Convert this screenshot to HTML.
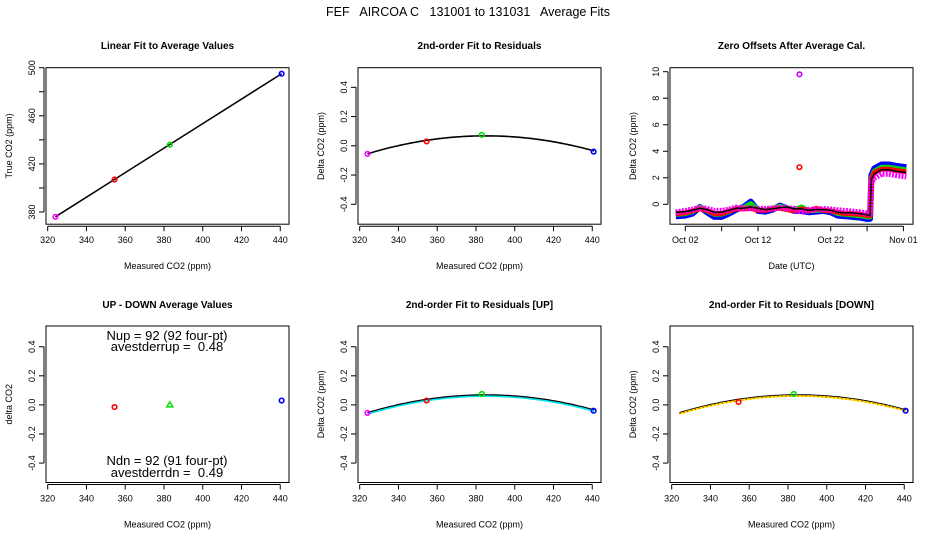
<!DOCTYPE html>
<html><head><meta charset="utf-8"><style>
html,body{margin:0;padding:0;background:#fff;}
svg{display:block;font-family:"Liberation Sans",sans-serif;}
</style></head><body>
<svg id="chart" width="936" height="540" viewBox="0 0 936 540" xmlns="http://www.w3.org/2000/svg">
<text x="468" y="16" font-size="12.5" text-anchor="middle" style="white-space:pre">FEF   AIRCOA C   131001 to 131031   Average Fits</text>
</svg>
<script>
// ---- data ----
const measX = [324, 354.5, 383, 440.7];
const trueY = [376, 407, 436, 495];
const ptColors = ['#ff00ff', '#ff0000', '#00dd00', '#0000ff'];
const residY = [-0.055, 0.03, 0.075, -0.04];
const fitCoef = [0.068, 385, 0.000033]; // peak, center, curvature
const udX = [354.5, 383, 440.7];
const udY = [-0.015, 0.0, 0.03];
const udColors = ['#ff0000', '#00dd00', '#0000ff'];
const upY = [-0.055, 0.03, 0.075, -0.04];
const dnX = [354.5, 383, 440.7];
const dnY = [0.02, 0.075, -0.04];
const xTicks = [320, 340, 360, 380, 400, 420, 440];
const linYTicks = [380, 420, 460, 500];
const residTicks = [-0.4, -0.2, 0.0, 0.2, 0.4];
const zeroDays = [0.7, 2, 3, 4, 5, 6, 7, 8, 9, 10, 11, 12, 13, 14, 15, 16, 17, 18, 19, 20, 21, 22, 23, 24, 25, 26, 27, 27.4, 27.6, 28, 29, 30, 31, 32.4];
const zeroBlack = [-0.6, -0.55, -0.45, -0.3, -0.4, -0.6, -0.6, -0.45, -0.3, -0.3, -0.2, -0.3, -0.4, -0.35, -0.25, -0.2, -0.35, -0.35, -0.45, -0.4, -0.4, -0.45, -0.6, -0.65, -0.65, -0.7, -0.8, -0.85, 1.9, 2.3, 2.6, 2.6, 2.5, 2.4];
const zeroBlue = [-0.9, -0.85, -0.7, -0.2, -0.6, -0.95, -0.95, -0.7, -0.4, -0.2, 0.2, -0.5, -0.55, -0.4, -0.1, -0.3, -0.5, -0.5, -0.6, -0.55, -0.5, -0.6, -0.85, -0.9, -0.95, -1.0, -1.1, -1.1, 2.2, 2.7, 3.0, 3.0, 2.9, 2.8];
const zeroGreen = [-0.75, -0.7, -0.55, -0.2, -0.5, -0.75, -0.75, -0.55, -0.3, -0.25, 0.05, -0.4, -0.45, -0.3, -0.15, -0.3, -0.4, -0.2, -0.5, -0.45, -0.45, -0.5, -0.7, -0.75, -0.8, -0.85, -0.95, -0.95, 2.0, 2.5, 2.8, 2.8, 2.7, 2.6];
const zeroRed = [-0.7, -0.65, -0.5, -0.35, -0.45, -0.7, -0.7, -0.5, -0.35, -0.35, -0.3, -0.45, -0.45, -0.35, -0.3, -0.4, -0.5, -0.35, -0.5, -0.3, -0.45, -0.5, -0.6, -0.7, -0.7, -0.75, -0.85, -0.85, 1.9, 2.4, 2.65, 2.65, 2.55, 2.45];
const zeroMag = [-0.6, -0.5, -0.4, -0.25, -0.35, -0.5, -0.5, -0.4, -0.25, -0.3, -0.3, -0.35, -0.35, -0.3, -0.25, -0.3, -0.35, -0.6, -0.4, -0.4, -0.35, -0.4, -0.45, -0.5, -0.55, -0.6, -0.7, -0.7, 1.7, 2.0, 2.3, 2.3, 2.2, 2.1];
const outlierDay = [17.7, 17.7];
const outlierVal = [9.8, 2.8];
const outlierColors = ['#cc00ff', '#ff0000'];
const dateTickLabels = ['Oct 02', 'Oct 12', 'Oct 22', 'Nov 01'];
const dateTickDays = [2, 12, 22, 32];
const dateMinorDays = [7, 17, 27];
const zeroTicks = [0, 2, 4, 6, 8, 10];

const svg = document.getElementById('chart');
const NS = 'http://www.w3.org/2000/svg';
function mk(tag, attrs, parent) {
  const e = document.createElementNS(NS, tag);
  for (const k in attrs) e.setAttribute(k, attrs[k]);
  (parent || svg).appendChild(e);
  return e;
}
function txt(str, attrs, parent) { const t = mk('text', attrs, parent); t.textContent = str; return t; }

const colX = [46, 358, 670];
const boxW = 243;
const rowY = [67.7, 326];
const boxH = 156.5;
function co2X(c) { return v => colX[c] + 1.7 + (v - 320) * 1.938; }

function panel(c, r, name, title, ytitle, xtitle) {
  const g = mk('g', {});
  
  
  const x0 = colX[c], y0 = rowY[r];
  const b = mk('rect', {x: x0, y: y0, width: boxW, height: boxH, fill: 'none', stroke: '#000', 'stroke-width': 1}, g);
  
  
  const t = txt(title, {x: x0 + boxW / 2, y: r === 0 ? 49 : 308, 'font-size': 10, 'font-weight': 'bold', 'text-anchor': 'middle'}, g);
  
  
  const yt = txt(ytitle, {x: 0, y: 0, 'font-size': 9, 'text-anchor': 'middle', transform: `translate(${x0 - 34},${y0 + boxH / 2}) rotate(-90)`}, g);
  
  
  const xt = txt(xtitle, {x: x0 + boxW / 2, y: y0 + boxH + 45, 'font-size': 9, 'text-anchor': 'middle'}, g);
  
  
  return g;
}
function xAxis(g, c, r, vals, labels, fx, minor) {
  const y0 = rowY[r] + boxH + 2;
  mk('line', {x1: fx(vals[0]), x2: fx(vals[vals.length - 1]), y1: y0, y2: y0, stroke: '#000'}, g);
  vals.forEach((v, i) => {
    mk('line', {x1: fx(v), x2: fx(v), y1: y0, y2: y0 + 5, stroke: '#000'}, g);
    const l = txt(labels[i], {x: fx(v), y: y0 + 17, 'font-size': 9, 'text-anchor': 'middle'}, g);
    
    
  });
  (minor || []).forEach(v => mk('line', {x1: fx(v), x2: fx(v), y1: y0, y2: y0 + 5, stroke: '#000'}, g));
}
function yAxis(g, c, vals, labels, fy, minor) {
  const x0 = colX[c] - 2;
  const all = vals.concat(minor || []);
  mk('line', {x1: x0, x2: x0, y1: fy(Math.min(...all)), y2: fy(Math.max(...all)), stroke: '#000'}, g);
  all.forEach(v => mk('line', {x1: x0, x2: x0 - 5, y1: fy(v), y2: fy(v), stroke: '#000'}, g));
  vals.forEach((v, i) => {
    const l = txt(labels[i], {x: 0, y: 0, 'font-size': 9, 'text-anchor': 'middle', transform: `translate(${x0 - 9},${fy(v)}) rotate(-90)`}, g);
    
    
  });
}
function pt(g, x, y, color, shape) {
  let e;
  if (shape === 'tri') e = mk('path', {d: `M${x},${y - 3} L${x + 3},${y + 2} L${x - 3},${y + 2} Z`, fill: 'none', stroke: color, 'stroke-width': 1.5}, g);
  else e = mk('circle', {cx: x, cy: y, r: 2.3, fill: 'none', stroke: color, 'stroke-width': 1.6}, g);
  
  
}
function fitPath(fx, fy, from, to) {
  let d = '';
  for (let v = from; v <= to + 0.01; v += 1) {
    const y = fitCoef[0] - fitCoef[2] * (v - fitCoef[1]) ** 2;
    d += (d ? ' L' : 'M') + fx(v).toFixed(1) + ',' + fy(y).toFixed(1);
  }
  return d;
}
const xLbl = xTicks.map(String);
const resLbl = residTicks.map(v => v.toFixed(1));

// Panel 1: linear fit
{
  const fx = co2X(0), fy = v => 67.7 + (500 - v) * 1.2025;
  const g = panel(0, 0, 'linear-fit-panel', 'Linear Fit to Average Values', 'True CO2 (ppm)', 'Measured CO2 (ppm)');
  xAxis(g, 0, 0, xTicks, xLbl, fx);
  yAxis(g, 0, linYTicks, linYTicks.map(String), fy, [400, 440, 480]);
  const l = mk('line', {x1: fx(measX[0]), y1: fy(trueY[0]), x2: fx(measX[3]), y2: fy(trueY[3]), stroke: '#000', 'stroke-width': 1.5}, g);
  
  
  measX.forEach((x, i) => pt(g, fx(x), fy(trueY[i]), ptColors[i]));
}
// Panel 2: residual fit
{
  const fx = co2X(1), fy = v => 145.8 - v * 146.25;
  const g = panel(1, 0, 'residual-fit-panel', '2nd-order Fit to Residuals', 'Delta CO2 (ppm)', 'Measured CO2 (ppm)');
  xAxis(g, 1, 0, xTicks, xLbl, fx);
  yAxis(g, 1, residTicks, resLbl, fy);
  const p = mk('path', {d: fitPath(fx, fy, 324, 441), fill: 'none', stroke: '#000', 'stroke-width': 1.6}, g);
  
  
  measX.forEach((x, i) => pt(g, fx(x), fy(residY[i]), ptColors[i]));
}
// Panel 3: zero offsets
{
  const fx = d => 685.3 + (d - 2) * 7.27, fy = v => 204.3 - v * 13.26;
  const g = panel(2, 0, 'zero-offsets-panel', 'Zero Offsets After Average Cal.', 'Delta CO2 (ppm)', 'Date (UTC)');
  xAxis(g, 2, 0, dateTickDays, dateTickLabels, fx, dateMinorDays);
  yAxis(g, 2, zeroTicks, zeroTicks.map(String), fy);
  const series = [[zeroBlue, '#0000ff', 6, 'offset-blue'], [zeroGreen, '#00dd00', 5, 'offset-green'], [zeroRed, '#ff0000', 5, 'offset-red'], [zeroMag, '#ff00ff', 6, 'offset-magenta'], [zeroBlack, '#000', 1.5, 'offset-mean']];
  series.forEach(s => {
    const d = zeroDays.map((day, i) => (i ? 'L' : 'M') + fx(day).toFixed(1) + ',' + fy(s[0][i]).toFixed(1)).join(' ');
    const attrs = {d: d, fill: 'none', stroke: s[1], 'stroke-width': s[2], 'stroke-linejoin': 'round'};
    if (s[3] === 'offset-magenta') attrs['stroke-dasharray'] = '2 1.2';
    const p = mk('path', attrs, g);
    
    
  });
  outlierDay.forEach((d, i) => pt(g, fx(d), fy(outlierVal[i]), outlierColors[i]));
}
// Panel 4: up-down
{
  const fx = co2X(0), fy = v => 404.9 - v * 145.4;
  const g = panel(0, 1, 'up-down-panel', 'UP - DOWN Average Values', 'delta CO2', 'Measured CO2 (ppm)');
  xAxis(g, 0, 1, xTicks, xLbl, fx);
  yAxis(g, 0, residTicks, resLbl, fy);
  udX.forEach((x, i) => pt(g, fx(x), fy(udY[i]), udColors[i], i === 1 ? 'tri' : 'c'));
  [['Nup = 92 (92 four-pt)', 340], ['avestderrup =  0.48', 351], ['Ndn = 92 (91 four-pt)', 465], ['avestderrdn =  0.49', 477]].forEach(a => {
    const t = txt(a[0], {x: 167, y: a[1], 'font-size': 13, 'text-anchor': 'middle', style: 'white-space:pre'}, g);
    
    
  });
}
// Panel 5: UP
{
  const fx = co2X(1), fy = v => 404.9 - v * 145.4;
  const g = panel(1, 1, 'residual-up-panel', '2nd-order Fit to Residuals [UP]', 'Delta CO2 (ppm)', 'Measured CO2 (ppm)');
  xAxis(g, 1, 1, xTicks, xLbl, fx);
  yAxis(g, 1, residTicks, resLbl, fy);
  const p1 = mk('path', {d: fitPath(fx, fy, 324, 441), fill: 'none', stroke: '#000', 'stroke-width': 1.6}, g);
  
  
  const p2 = mk('path', {d: fitPath(fx, v => fy(v) + 1.2, 324, 441), fill: 'none', stroke: '#00e5ee', 'stroke-width': 1.6}, g);
  
  
  measX.forEach((x, i) => pt(g, fx(x), fy(upY[i]), ptColors[i]));
}
// Panel 6: DOWN
{
  const fx = co2X(2), fy = v => 404.9 - v * 145.4;
  const g = panel(2, 1, 'residual-down-panel', '2nd-order Fit to Residuals [DOWN]', 'Delta CO2 (ppm)', 'Measured CO2 (ppm)');
  xAxis(g, 2, 1, xTicks, xLbl, fx);
  yAxis(g, 2, residTicks, resLbl, fy);
  const p1 = mk('path', {d: fitPath(fx, fy, 324, 441), fill: 'none', stroke: '#000', 'stroke-width': 1.6}, g);
  
  
  const p2 = mk('path', {d: fitPath(fx, v => fy(v) + 1, 324, 441), fill: 'none', stroke: '#ffee00', 'stroke-width': 1.8}, g);
  
  
  const p3 = mk('path', {d: fitPath(fx, v => fy(v) + 1, 324, 441), fill: 'none', stroke: '#ff0000', 'stroke-width': 1, 'stroke-dasharray': '1 3'}, g);
  
  
  dnX.forEach((x, i) => pt(g, fx(x), fy(dnY[i]), udColors[i]));
}
</script>
</body></html>
